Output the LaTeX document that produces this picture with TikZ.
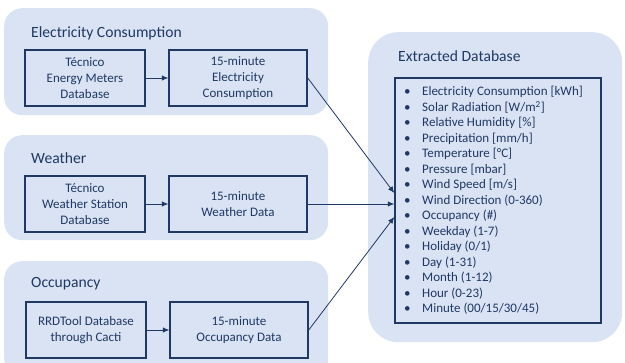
\documentclass[tikz,border=0pt]{standalone}
\usepackage{fontspec}
\setmainfont{Carlito}
\usetikzlibrary{positioning,arrows.meta}
\definecolor{navy}{HTML}{1F3864}
\definecolor{paleblue}{HTML}{DAE3F3}

\begin{document}
\begin{tikzpicture}[
  x=1pt,y=-1pt,
  grp/.style={fill=paleblue,rounded corners=18pt,anchor=north west,inner sep=0pt},
  grptitle/.style={text=navy,anchor=west,inner sep=0pt,font=\fontsize{15.6}{18}\selectfont},
  box/.style={draw=navy,line width=1.5pt,text=navy,align=center,inner sep=0pt,
    minimum height=56pt,font=\fontsize{13}{15.8}\selectfont},
  item/.style={text=navy,anchor=west,inner sep=0pt,font=\fontsize{13}{15}\selectfont},
  arr/.style={draw=navy,line width=0.8pt,-{Latex[length=6.5pt,width=5.5pt]}}
]

\clip (0,0) rectangle (625,363);

% electricity
\node[grp,minimum width=324pt,minimum height=107pt] (grpE) at (4,8) {};
\node[grptitle] (tE) at (31,33) {Electricity Consumption};
\node[box,minimum width=120pt] (E1) at (85,78) {Técnico\\Energy Meters\\Database};
\node[box,minimum width=138pt] (E2) at (238,78) {15-minute\\Electricity\\Consumption};

% weather
\node[grp,minimum width=324pt,minimum height=105pt] (grpW) at (4,135) {};
\node[grptitle] (tW) at (31,158) {Weather};
\node[box,minimum width=120pt] (W1) at (85,204) {Técnico\\Weather Station\\Database};
\node[box,minimum width=138pt] (W2) at (238,204) {15-minute\\Weather Data};

% occupancy
\node[grp,minimum width=324pt,minimum height=115pt] (grpO) at (4,261) {};
\node[grptitle] (tO) at (31,284) {Occupancy};
\node[box,minimum width=120pt] (O1) at (86,330) {RRDTool Database\\through Cacti};
\node[box,minimum width=138pt] (O2) at (239,330) {15-minute\\Occupancy Data};

\foreach \g in {E,W,O}
  \draw[arr] (\g1) -- (\g2);

% extracted database
\node[grp,rounded corners=30pt,minimum width=254pt,minimum height=310pt] (grpX) at (368,32) {};
\node[grptitle] (tX) at (398,56) {Extracted Database};
\node[draw=navy,line width=1.5pt,minimum width=206pt,minimum height=245pt,inner sep=0pt] (db) at (498,200.5) {};

\foreach \t [count=\i] in {Electricity Consumption [kWh],Solar Radiation [W/m\textsuperscript{2}],
  Relative Humidity [\%],Precipitation [mm/h],Temperature [°C],Pressure [mbar],
  Wind Speed [m/s],Wind Direction (0-360),Occupancy (\#),Weekday (1-7),Holiday (0/1),
  Day (1-31),Month (1-12),Hour (0-23),Minute (00/15/30/45)}
  \node[item] (it\i) at (403,76.5+15.5*\i) {\makebox[19pt][l]{\hspace{1pt}•}\t};

\draw[arr] (E2.east) -- ([yshift=7.5pt]db.west);
\draw[arr] (W2.east) -- (W2.east -| db.west);
\draw[arr] (O2.east) -- ([yshift=-16.5pt]db.west);

\end{tikzpicture}
\end{document}
